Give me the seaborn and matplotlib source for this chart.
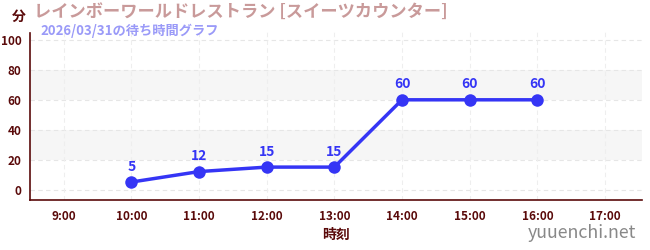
import matplotlib
matplotlib.use("Agg")
import matplotlib.pyplot as plt
import seaborn as sns
import pandas as pd
from matplotlib.ticker import MultipleLocator

hours = [10, 11, 12, 13, 14, 15, 16]
waits = [5, 12, 15, 15, 60, 60, 60]
xticks = [9, 10, 11, 12, 13, 14, 15, 16, 17]
xticklabels = ["9:00", "10:00", "11:00", "12:00", "13:00", "14:00", "15:00", "16:00", "17:00"]
yticks = [0, 20, 40, 60, 80, 100]
title = "レインボーワールドレストラン [スイーツカウンター]"
subtitle = "2026/03/31の待ち時間グラフ"

sns.set_style("white")
plt.rcParams['font.family'] = ['Noto Sans CJK JP', 'DejaVu Sans']

df = pd.DataFrame({"hour": hours, "wait": waits})

fig = plt.figure(figsize=(6.5, 2.5), dpi=100)
ax = fig.add_axes([0.046, 0.2, 0.942, 0.67])
ax.set_xlim(8.5, 17.55)
ax.set_ylim(-7, 105)

for lo, hi in [(20, 40), (60, 80)]:
    ax.axhspan(lo, hi, color="#f6f6f6", zorder=0, lw=0)
for y in yticks:
    ax.axhline(y, color="#e6e6e6", ls=(0, (4, 3)), lw=0.8, zorder=0.5)
for x in xticks:
    ax.axvline(x, color="#eeeeee", ls=(0, (4, 3)), lw=0.8, zorder=0.5)

sns.lineplot(data=df, x="hour", y="wait", ax=ax, color="#3535f5", lw=2.5,
             marker="o", markersize=9, markeredgewidth=0, zorder=3)
for h, w in zip(hours, waits):
    ax.annotate(str(w), (h, w), xytext=(0, 6), textcoords="offset points",
                ha="center", va="bottom", color="#3535f5", fontsize=10, fontweight="bold")

dark = "#5a0a0a"
ax.set_xticks(xticks)
ax.set_xticklabels(xticklabels)
ax.set_yticks(yticks)
ax.yaxis.set_minor_locator(MultipleLocator(10))
ax.tick_params(axis="both", which="major", colors=dark, labelsize=8.5, length=4, width=1)
ax.tick_params(axis="y", which="minor", color="#cc0000", length=3, width=1)
ax.tick_params(axis="y", which="major", pad=2)
for lab in ax.get_xticklabels() + ax.get_yticklabels():
    lab.set_fontweight("bold")
    lab.set_color(dark)
for s in ["top", "right"]:
    ax.spines[s].set_visible(False)
for s in ["left", "bottom"]:
    ax.spines[s].set_color(dark)
    ax.spines[s].set_linewidth(1.2)
ax.set_xlabel("時刻", color=dark, fontsize=10, fontweight="bold", labelpad=3)
ax.set_ylabel("")

fig.text(12/650, 1 - 17/250, "分", color=dark, fontsize=10, fontweight="bold", ha="left", va="center")
fig.text(34/650, 1 - 13/250, title, color="#c99a9a", fontsize=12.4, fontweight="bold", ha="left", va="center")
fig.text(40/650, 1 - 31/250, subtitle, color="#9a9af8", fontsize=9.5, fontweight="bold", ha="left", va="center")
fig.text(636/650, 1 - 233/250, "yuuenchi.net", color="#888888", fontsize=12.8, ha="right", va="center")

fig.savefig("out.png", dpi=100)
